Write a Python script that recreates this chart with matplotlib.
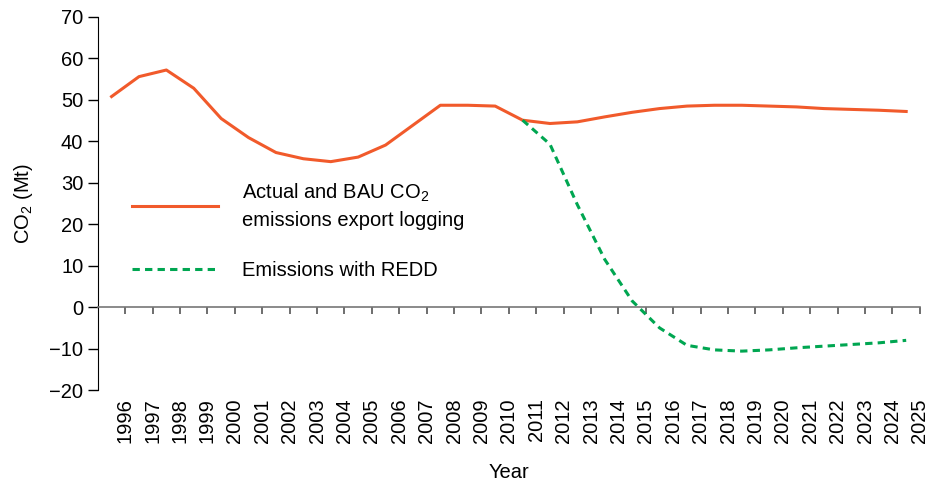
"""
CO2 emissions from export logging: actual/BAU vs. REDD scenario.
"""

import numpy as np
import matplotlib
matplotlib.use("Agg")
import matplotlib.pyplot as plt

plt.rcParams["font.family"] = ["Liberation Sans", "DejaVu Sans"]
plt.rcParams["mathtext.fontset"] = "custom"
plt.rcParams["mathtext.rm"] = "Liberation Sans"
plt.rcParams["mathtext.it"] = "Liberation Sans"

years = list(range(1996, 2026))

bau_emissions = [
    50.8, 55.6, 57.2, 52.8, 45.5, 40.9, 37.3, 35.8, 35.1, 36.2,
    39.1, 43.9, 48.7, 48.7, 48.5, 45.1, 44.3, 44.7, 45.9, 47.0,
    47.9, 48.5, 48.7, 48.7, 48.5, 48.3, 47.9, 47.7, 47.5, 47.2,
]

redd_years = list(range(2011, 2026))
redd_emissions = [
    45.1, 39.3, 24.7, 11.5, 1.5, -5.0, -9.2, -10.3, -10.6, -10.3,
    -9.8, -9.4, -9.0, -8.6, -8.0,
]

y_ticks = list(range(-20, 71, 10))

ORANGE = "#f15a2b"
GREEN = "#00a651"
FS = 14.5

# categories sit between tick marks; labels sit on the right-hand tick
x_bau = np.array([y - years[0] for y in years]) + 0.5
x_redd = np.array([y - years[0] for y in redd_years]) + 0.5
tick_pos = np.arange(1, len(years) + 1)

fig = plt.figure(figsize=(9.32, 4.84), dpi=100)
ax = fig.add_axes([0.105, 0.194, 0.882, 0.771])

ax.plot(x_bau, bau_emissions, color=ORANGE, linewidth=2.2,
        label="Actual and BAU CO$_2$\nemissions export logging")
ax.plot(x_redd, redd_emissions, color=GREEN, linewidth=2.2, linestyle=(0, (2.4, 1.7)),
        label="Emissions with REDD")

ax.set_xlim(0, len(years))
ax.set_ylim(-20, 70)
ax.set_yticks(y_ticks)
ax.tick_params(axis="y", labelsize=FS, length=7.5, width=1, direction="out", pad=3)

# x axis line on zero, tick marks there, labels at the bottom
for side in ["top", "right"]:
    ax.spines[side].set_visible(False)
ax.spines["bottom"].set_position(("data", 0))
ax.spines["bottom"].set_color("#777777")
ax.spines["bottom"].set_linewidth(1.2)
ax.set_xticks(tick_pos)
ax.tick_params(axis="x", labelbottom=False, length=5, width=1.2, color="#555555", direction="out")

sec = ax.secondary_xaxis(0.0)
sec.set_xticks(tick_pos)
sec.set_xticklabels([str(y) for y in years], rotation=90, fontsize=FS)
sec.tick_params(axis="x", length=0, pad=6)
sec.spines["bottom"].set_visible(False)
sec.set_xlabel("Year", fontsize=FS, labelpad=14)

ax.set_ylabel("CO$_2$ (Mt)", fontsize=FS, labelpad=10)

leg = ax.legend(loc="upper left", bbox_to_anchor=(0.019, 0.607), frameon=False, fontsize=FS,
                handlelength=4.3, handletextpad=1.2, labelspacing=1.55)
for txt in leg.get_texts():
    txt.set_linespacing(1.45)

fig.savefig("out.png", dpi=100)
